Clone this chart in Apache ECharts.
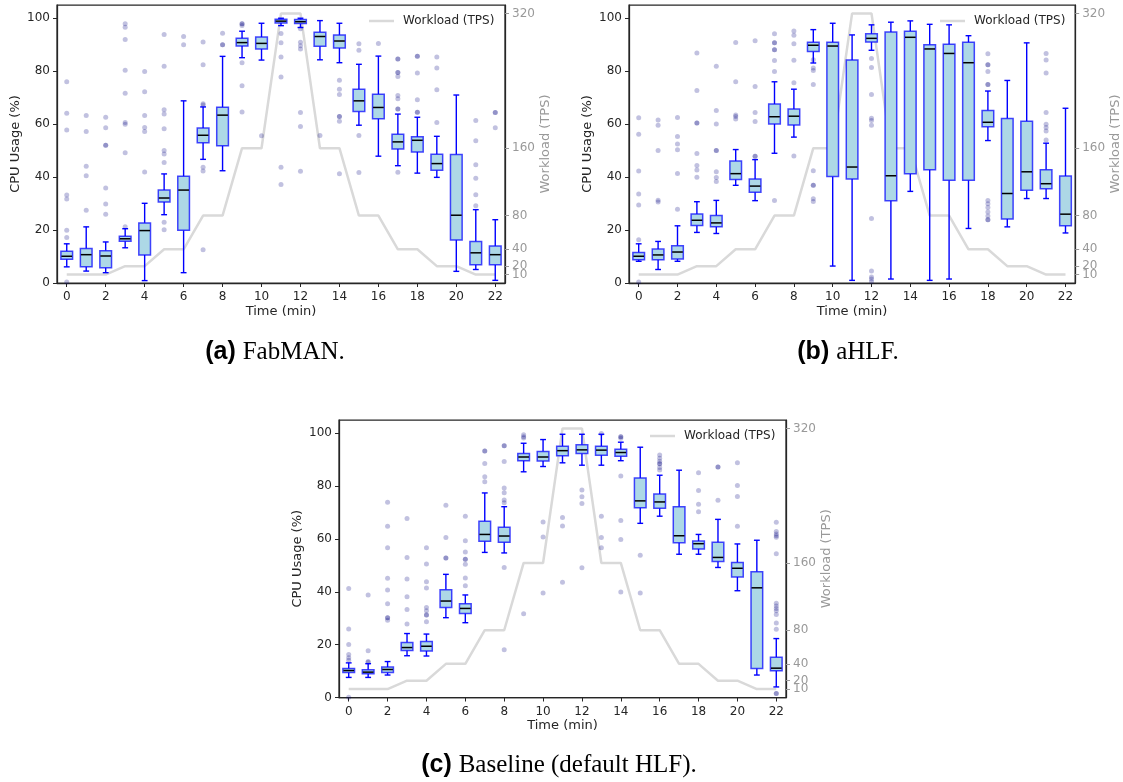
<!DOCTYPE html>
<html><head><meta charset="utf-8">
<script src="https://cdn.jsdelivr.net/npm/echarts@6/dist/echarts.min.js"></script>
<style>html,body{margin:0;padding:0;background:#fff}#chart{width:1123px;height:782px}</style>
</head><body><div id="chart"></div>
<script>
// ---------------- DATA ----------------
const minutes = ['0','1','2','3','4','5','6','7','8','9','10','11','12','13','14','15','16','17','18','19','20','21','22'];
const workloadTPS = [10,10,10,20,20,40,40,80,80,160,160,320,320,160,160,80,80,40,40,20,20,10,10];
const cpuTicks = [0,20,40,60,80,100];
const tpsTicks = [10,20,40,80,160,320];
const tpsLabelsMain = [10,40,80,160,320];
const tpsLabelsExtra = [20];

// [lower whisker, Q1, median, Q3, upper whisker] per minute
const fabmanBoxes = [
  [6.1,9.0,10.1,12.0,14.8],[4.5,6.1,10.7,13.0,21.2],[3.9,5.8,10.2,12.2,15.5],[13.3,15.8,16.7,17.7,20.5],
  [0.9,10.6,19.8,22.7,30.1],[25.8,30.6,32.1,35.1,41.2],[3.9,19.9,35.1,40.3,68.8],[46.7,53.0,55.8,58.5,66.5],
  [42.4,51.8,63.4,66.4,85.6],[85.1,89.5,90.8,92.4,95.1],[84.2,88.4,90.5,92.9,98.1],[97.2,98.2,98.9,99.6,100.0],
  [96.5,98.0,98.7,99.5,100.0],[84.3,89.4,93.1,94.7,99.1],[83.2,88.8,91.4,93.7,98.1],[59.6,64.8,68.8,73.2,82.6],
  [47.9,62.0,66.3,71.3,85.7],[44.3,50.6,53.3,56.2,63.8],[41.5,49.5,53.9,55.2,62.6],[39.9,42.6,45.1,48.6,55.4],
  [4.4,16.2,25.6,48.5,71.0],[5.1,6.9,11.4,15.7,27.7],[1.0,6.9,10.7,14.0,23.9]
];
const fabmanOutliers = [
  [76.0,64.1,57.8,33.2,31.7,19.9,17.2,0.4],[63.3,57.2,44.1,40.5,27.5],[62.6,58.6,52.0,52.0,35.9,29.8,26.0],
  [97.9,96.6,92.0,80.4,71.7,60.6,60.0,49.2,21.2],[79.9,72.2,63.3,58.7,57.2,41.9],
  [93.9,81.9,65.4,63.8,58.3,50.0,48.7,45.5,22.9,20.1],[93.1,90.0],[91.0,82.4,67.7,67.2,43.7,42.3,12.6],
  [94.3,90.0,90.0],[97.9,97.9,97.3,83.2,74.5,64.6],[55.6],[94.2,90.7,85.4,77.8,43.7,37.2],
  [96.0,90.9,89.6,88.4,64.4,59.1,42.2],[55.7],[76.6,73.2,71.2,62.9,62.9,61.1,41.3],[90.4,87.9,55.7,41.7],
  [90.5],[84.6,84.6,79.5,79.5,78.0,70.8,69.6,65.7,65.7,41.8],[85.6,85.6,79.3,69.2,64.5,64.5],
  [85.4,81.2,73.0,60.6],[],[61.4,53.7,44.7,39.6,33.3,29.2],[64.4,64.4,58.6]
];

const ahlfBoxes = [
  [8.2,8.8,10.1,11.5,14.8],[5.1,8.8,10.6,12.8,15.7],[8.2,9.1,11.7,14.1,21.6],[19.1,21.7,23.7,26.1,30.7],
  [18.7,21.2,22.7,25.5,31.2],[36.9,39.1,41.3,46.1,50.4],[31.1,34.3,36.6,39.3,46.6],[49.0,60.1,62.8,67.6,76.0],
  [55.1,59.7,63.0,65.7,73.2],[83.1,87.4,89.8,90.9,95.7],[6.4,40.2,89.5,90.9,98.1],[1.0,39.3,43.8,84.2,93.7],
  [87.9,91.0,92.4,94.1,97.5],[1.5,31.1,40.5,94.8,98.5],[34.6,41.3,92.8,95.1,99.0],[1.0,42.8,88.4,90.0,97.7],
  [1.5,38.8,86.7,90.2,97.5],[20.6,38.8,83.2,90.9,93.4],[53.8,59.0,60.7,65.2,72.5],[21.2,24.2,33.8,62.1,76.5],
  [31.9,35.0,42.0,61.1,90.7],[31.9,35.6,37.5,42.8,52.8],[18.9,21.6,26.0,40.4,66.0]
];
const ahlfOutliers = [
  [62.4,56.2,42.3,33.6,29.5,16.3,0.4],[61.6,59.6,50.0,31.3,30.6],[62.5,55.3,52.5,50.3,41.4,27.9],
  [86.9,72.7,60.4,60.4,48.9,44.4,42.7,39.9],[81.9,65.2,60.1,50.0,50.0,42.0,39.8,38.3],
  [90.8,76.0,63.5,62.9,61.9],[91.5,74.2,64.4,61.0,47.9,47.9],[94.1,90.7,90.7,88.1,88.1,84.0,79.9,31.2],
  [95.2,93.6,90.4,84.1,75.6,48.0],[84.3,81.2,80.3,75.0,42.4,36.9,36.9,31.8,30.8],[],[],
  [84.8,81.4,71.2,62.2,61.4,59.6,24.4,4.5,2.3,1.5,0.6],[],[],[],[],[],
  [86.6,82.4,82.4,79.9,75.0,75.0,31.2,29.9,28.5,26.8,25.3,23.9,23.9],[],[],
  [86.7,84.2,79.3,64.4,60.0,58.7,57.4,54.0],[]
];

const baselineBoxes = [
  [7.6,9.5,10.2,11.0,13.1],[7.6,9.0,9.6,10.5,12.8],[8.5,9.5,10.6,11.5,13.6],[15.8,17.8,18.9,20.8,24.2],
  [15.7,17.6,19.4,21.2,24.0],[30.2,34.1,36.5,40.8,46.6],[28.3,31.8,33.7,35.5,38.8],[54.9,59.1,61.7,66.7,77.4],
  [54.7,58.7,61.1,64.4,72.2],[85.4,89.6,91.0,92.3,96.2],[87.4,89.5,91.0,93.1,97.6],[88.8,91.5,93.4,95.1,99.6],
  [87.9,92.3,93.7,95.6,99.6],[87.9,91.7,93.6,95.1,99.6],[89.6,91.3,92.7,93.9,96.6],[65.9,71.8,74.4,83.1,94.7],
  [68.6,71.6,74.0,77.0,84.1],[54.2,58.6,61.2,72.2,86.0],[54.2,56.2,58.2,59.2,61.7],[49.2,51.5,53.0,58.7,67.4],
  [40.4,45.6,48.9,51.1,58.1],[8.5,11.0,41.5,47.6,59.5],[4.0,10.1,11.1,15.2,22.3]
];
const baselineOutliers = [
  [41.2,25.9,20.1,16.3,15.0,14.1,0.1],[38.8,17.7,13.6,13.3],[73.9,64.8,56.7,45.1,40.7,35.5,30.2,30.2,29.2],
  [67.7,53.0,44.8,38.1,33.3,27.8],[56.7,50.5,43.8,41.4,34.1,32.8,31.2,31.2,28.7],[72.7,60.5,52.8,52.8],
  [68.6,59.3,55.1,52.3,52.3,50.4,45.2,42.3],[93.3,93.3,88.5,83.5,81.6],[95.3,95.3,89.3,79.3,77.5,74.7,73.7,49.2,18.1],
  [99.4,98.7,98.2,31.7],[66.4,60.7,39.5],[68.1,64.9,43.6],[78.5,76.0,73.4,49.1],[99.9,68.6,60.5,56.7],
  [98.7,98.7,98.1,83.8,67.0,59.8,39.9],[53.8,39.5],[91.8,90.5,89.4,88.4,88.4,87.0,86.1],[],
  [85.0,78.3,73.1,70.3],[87.2,87.2,74.6],[88.8,80.2,76.1,64.8],[],
  [66.3,62.8,61.9,61.2,60.6,54.4,35.7,34.6,33.7,32.8,31.4,28.2,25.8,1.5,1.5]
];

// ---------------- LAYOUT / STYLE ----------------
const FONT = 'DejaVu Sans';
const DARK = '#262626';
const GRAY = '#999999';
const panels = [
  {boxes: fabmanBoxes, outliers: fabmanOutliers, grid: {left:57, top:5, width:448, height:278},
   legend: {left:369, top:14}, caption: {x:275, y:352, tag:'(a)', text:'FabMAN.'}},
  {boxes: ahlfBoxes, outliers: ahlfOutliers, grid: {left:629, top:5, width:448, height:278},
   legend: {left:940, top:14}, caption: {x:848, y:352, tag:'(b)', text:'aHLF.'}},
  {boxes: baselineBoxes, outliers: baselineOutliers, grid: {left:339, top:420, width:447, height:277.5},
   legend: {left:650, top:429}, caption: {x:559, y:765, tag:'(c)', text:'Baseline (default HLF).'}}
];

function renderBox(params, api) {
  const x = api.value(0);
  const lo = api.coord([x, api.value(1)]);
  const q1 = api.coord([x, api.value(2)]);
  const med = api.coord([x, api.value(3)]);
  const q3 = api.coord([x, api.value(4)]);
  const hi = api.coord([x, api.value(5)]);
  const band = api.size([1, 0])[0];
  const bw = band * 0.6, cw = bw / 2, cx = lo[0];
  const wStyle = {stroke: '#0000ff', lineWidth: 1.4};
  return {type: 'group', children: [
    {type:'line', shape:{x1:cx, y1:q1[1], x2:cx, y2:lo[1]}, style: wStyle},
    {type:'line', shape:{x1:cx, y1:q3[1], x2:cx, y2:hi[1]}, style: wStyle},
    {type:'line', shape:{x1:cx-cw/2, y1:lo[1], x2:cx+cw/2, y2:lo[1]}, style: wStyle},
    {type:'line', shape:{x1:cx-cw/2, y1:hi[1], x2:cx+cw/2, y2:hi[1]}, style: wStyle},
    {type:'rect', shape:{x:cx-bw/2, y:q3[1], width:bw, height:q1[1]-q3[1]},
     style:{fill:'#add8e6', stroke:'rgba(0,0,255,0.72)', lineWidth:1.5}},
    {type:'line', shape:{x1:cx-bw/2+0.5, y1:med[1], x2:cx+bw/2-0.5, y2:med[1]}, style:{stroke:'#000', lineWidth:1.5}}
  ]};
}

const option = {
  animation: false,
  backgroundColor: '#fff',
  textStyle: {fontFamily: FONT},
  grid: [], xAxis: [], yAxis: [], series: [], legend: [], graphic: []
};

panels.forEach((p, i) => {
  option.grid.push(Object.assign({show:true, borderColor:DARK, borderWidth:1.25, backgroundColor:'transparent'}, p.grid));
  option.xAxis.push({
    type:'category', gridIndex:i, data:minutes, boundaryGap:true,
    name:'Time (min)', nameLocation:'middle', nameGap:22,
    nameTextStyle:{fontSize:13, color:DARK, fontFamily:FONT},
    axisLine:{show:true, lineStyle:{color:DARK, width:1.25}},
    axisTick:{show:true, interval:1, alignWithLabel:true, length:4, lineStyle:{color:DARK, width:1}},
    axisLabel:{interval:1, margin:8, fontSize:12, color:DARK, fontFamily:FONT},
    splitLine:{show:false}
  });
  // left CPU axis
  option.yAxis.push({
    type:'value', gridIndex:i, min:0, max:105, position:'left',
    name:'CPU Usage (%)', nameLocation:'middle', nameGap:35,
    nameTextStyle:{fontSize:13, color:DARK, fontFamily:FONT},
    axisLine:{show:true, lineStyle:{color:DARK, width:1.25}},
    axisTick:{show:true, length:4, customValues:cpuTicks, lineStyle:{color:DARK, width:1}},
    axisLabel:{margin:7, fontSize:12, color:DARK, fontFamily:FONT, customValues:cpuTicks,
               showMinLabel:true, showMaxLabel:true},
    splitLine:{show:false}
  });
  // right workload axis
  option.yAxis.push({
    type:'value', gridIndex:i, min:0, max:330, position:'right',
    name:'Workload (TPS)', nameLocation:'middle', nameGap:33,
    nameTextStyle:{fontSize:13, color:GRAY, fontFamily:FONT},
    axisLine:{show:true, lineStyle:{color:DARK, width:1.25}},
    axisTick:{show:true, length:4, customValues:tpsTicks, lineStyle:{color:GRAY, width:1}},
    axisLabel:{margin:7, fontSize:12, color:GRAY, fontFamily:FONT, customValues:tpsLabelsMain,
               showMinLabel:true, showMaxLabel:true},
    splitLine:{show:false}
  });
  // companion right axis carrying the close-by "20" label
  option.yAxis.push({
    type:'value', gridIndex:i, min:0, max:330, position:'right',
    axisLine:{show:false}, axisTick:{show:false},
    axisLabel:{margin:7, fontSize:12, color:GRAY, fontFamily:FONT, customValues:tpsLabelsExtra,
               showMinLabel:true, showMaxLabel:true},
    splitLine:{show:false}
  });
  option.series.push({
    type:'line', name:'Workload (TPS)', xAxisIndex:i, yAxisIndex:3*i+1, data:workloadTPS,
    symbol:'none', showSymbol:false, color:'#d9d9d9',
    lineStyle:{color:'#d9d9d9', width:2.5}, z:1, silent:true
  });
  const sc = [];
  p.outliers.forEach((vals, m) => vals.forEach(v => sc.push([m, v])));
  option.series.push({
    type:'scatter', xAxisIndex:i, yAxisIndex:3*i, data:sc, symbolSize:5,
    itemStyle:{color:'rgba(0,0,128,0.3)'}, z:2, silent:true
  });
  option.series.push({
    type:'custom', xAxisIndex:i, yAxisIndex:3*i, renderItem:renderBox,
    data:p.boxes.map((b, m) => [m].concat(b)), encode:{x:0, y:[1,2,3,4,5]}, z:3, silent:true
  });
  option.legend.push({
    data:[{name:'Workload (TPS)', icon:'rect'}], left:p.legend.left, top:p.legend.top + 1,
    padding:0, itemWidth:25, itemHeight:2.5, selectedMode:false,
    textStyle:{fontSize:12, color:DARK, fontFamily:FONT, padding:[0,0,0,4]}
  });
  option.graphic.push({
    type:'text', x:p.caption.x, y:p.caption.y,
    style:{
      text:'{b|' + p.caption.tag + ' }{s|' + p.caption.text + '}',
      align:'center', verticalAlign:'middle',
      rich:{
        b:{fontFamily:'Liberation Sans', fontWeight:'bold', fontSize:25, fill:'#000'},
        s:{fontFamily:'Liberation Serif', fontSize:25, fill:'#000'}
      }
    }
  });
});

const chart = echarts.init(document.getElementById('chart'), null, {renderer:'canvas'});
chart.setOption(option);
</script>
</body></html>
